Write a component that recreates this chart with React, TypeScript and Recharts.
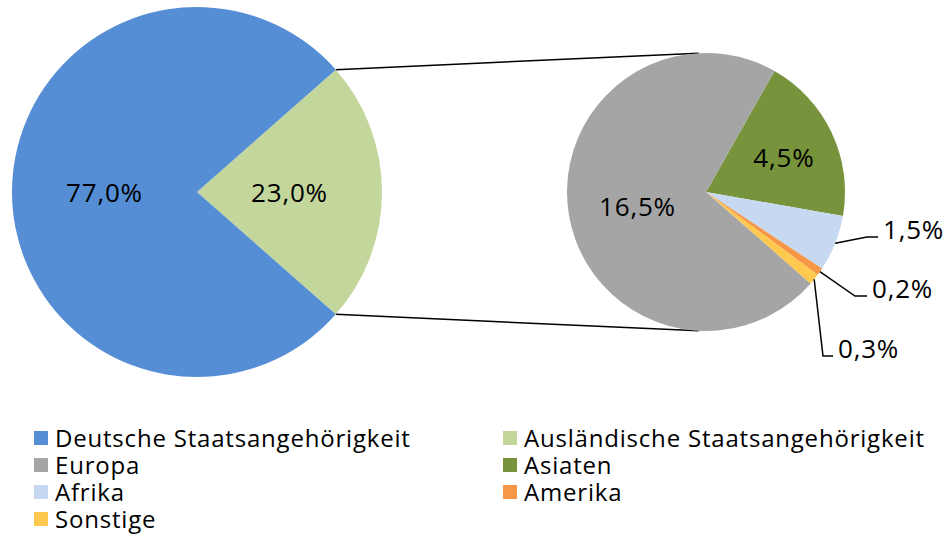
import React from 'react';
import { PieChart, Pie, Cell, Customized } from 'recharts';

// Werte in % der Gesamtbevölkerung
const mainNames = ['Ausländische Staatsangehörigkeit', 'Deutsche Staatsangehörigkeit'];
const mainValues = [23.0, 77.0];
const mainColors = ['#C3D69B', '#558ED5'];

const detailNames = ['Asiaten', 'Afrika', 'Amerika', 'Sonstige', 'Europa'];
const detailValues = [4.5, 1.5, 0.2, 0.3, 16.5];
const detailColors = ['#77933C', '#C6D9F1', '#F79646', '#FFC94F', '#A5A5A5'];

const legendRows = [
  ['Deutsche Staatsangehörigkeit', 'Ausländische Staatsangehörigkeit'],
  ['Europa', 'Asiaten'],
  ['Afrika', 'Amerika'],
  ['Sonstige'],
];

const FONT = '"Open Sans", "Noto Sans", sans-serif';
const RADIAN = Math.PI / 180;

// Geometrie der beiden Kreise
const LEFT = { cx: 197, cy: 192, r: 185 };
const RIGHT = { cx: 706, cy: 192, r: 139 };
const mainSlice = (mainValues[0] / 100) * 360;
const detailStart = 60.5;

// Beschriftungen außerhalb (Versatz vom Mittelpunkt)
const OUTSIDE: Record<string, { ex: number; ey: number; len: number }> = {
  Afrika: { ex: 161, ey: 45, len: 11 },
  Amerika: { ex: 149, ey: 104, len: 12 },
  Sonstige: { ex: 117, ey: 164, len: 10 },
};

const fmt = (v: number) => v.toFixed(1).replace('.', ',') + '%';

const colorOf = (name: string) => {
  const i = mainNames.indexOf(name);
  if (i >= 0) return mainColors[i];
  return detailColors[detailNames.indexOf(name)];
};

const mainData = mainNames.map((name, i) => ({ name, value: mainValues[i] }));
const detailData = detailNames.map((name, i) => ({ name, value: detailValues[i] }));

function pt(c: { cx: number; cy: number }, r: number, angle: number) {
  return { x: c.cx + r * Math.cos(-angle * RADIAN), y: c.cy + r * Math.sin(-angle * RADIAN) };
}

const labelStyle = { fontSize: 26, fontFamily: FONT, letterSpacing: 0.8 };

function renderMainLabel(props: any) {
  const { cx, cy, midAngle, outerRadius, value } = props;
  const p = pt({ cx, cy }, outerRadius * 0.5, midAngle);
  return (
    <text x={p.x} y={p.y} textAnchor="middle" dominantBaseline="central" fill="#000" style={labelStyle}>
      {fmt(value)}
    </text>
  );
}

function renderDetailLabel(props: any) {
  const { cx, cy, midAngle, outerRadius, value, name } = props;
  const o = OUTSIDE[name];
  if (!o) {
    const f = name === 'Asiaten' ? 0.62 : 0.5;
    const p = pt({ cx, cy }, outerRadius * f, midAngle);
    return (
      <text x={p.x} y={p.y + 2} textAnchor="middle" dominantBaseline="central" fill="#000" style={labelStyle}>
        {fmt(value)}
      </text>
    );
  }
  const s = pt({ cx, cy }, outerRadius, midAngle);
  const ex = cx + o.ex;
  const ey = cy + o.ey;
  return (
    <g>
      <polyline points={`${s.x},${s.y} ${ex},${ey} ${ex + o.len},${ey}`} fill="none" stroke="#000" strokeWidth={1.5} />
      <text x={ex + o.len + 5} y={ey - 8} dominantBaseline="central" fill="#000" style={labelStyle}>
        {fmt(value)}
      </text>
    </g>
  );
}

function Connectors() {
  const a = pt(LEFT, LEFT.r, mainSlice / 2);
  const b = pt(RIGHT, RIGHT.r, 93);
  const c = pt(LEFT, LEFT.r, -mainSlice / 2);
  const d = pt(RIGHT, RIGHT.r, -93);
  return (
    <g>
      <line x1={a.x} y1={a.y} x2={b.x} y2={b.y} stroke="#000" strokeWidth={1.5} />
      <line x1={c.x} y1={c.y} x2={d.x} y2={d.y} stroke="#000" strokeWidth={1.5} />
    </g>
  );
}

export default function App() {
  return (
    <div style={{ position: 'absolute', left: 0, top: 0, width: 947, height: 534, background: '#fff' }}>
      <PieChart width={947} height={420} margin={{ top: 0, right: 0, bottom: 0, left: 0 }}>
        <Pie
          data={mainData}
          dataKey="value"
          nameKey="name"
          cx={LEFT.cx}
          cy={LEFT.cy}
          outerRadius={LEFT.r}
          startAngle={mainSlice / 2}
          endAngle={mainSlice / 2 - 360}
          stroke="none"
          label={renderMainLabel}
          labelLine={false}
          isAnimationActive={false}
        >
          {mainData.map((d, i) => (
            <Cell key={d.name} fill={mainColors[i]} />
          ))}
        </Pie>
        <Pie
          data={detailData}
          dataKey="value"
          nameKey="name"
          cx={RIGHT.cx}
          cy={RIGHT.cy}
          outerRadius={RIGHT.r}
          startAngle={detailStart}
          endAngle={detailStart - 360}
          stroke="none"
          label={renderDetailLabel}
          labelLine={false}
          isAnimationActive={false}
        >
          {detailData.map((d, i) => (
            <Cell key={d.name} fill={detailColors[i]} />
          ))}
        </Pie>
        <Customized component={Connectors} />
      </PieChart>
      <div style={{ position: 'absolute', left: 34, top: 424, fontFamily: FONT, fontSize: 24, letterSpacing: 0.8, color: '#000' }}>
        {legendRows.map((row, r) => (
          <div key={r} style={{ display: 'flex', height: 27, alignItems: 'center' }}>
            {row.map((name, c) => (
              <div key={name} style={{ display: 'flex', alignItems: 'center', width: c === 0 ? 469 : 440 }}>
                <span style={{ width: 14, height: 14, background: colorOf(name), marginRight: 7, display: 'inline-block' }} />
                <span style={{ lineHeight: '27px' }}>{name}</span>
              </div>
            ))}
          </div>
        ))}
      </div>
    </div>
  );
}
